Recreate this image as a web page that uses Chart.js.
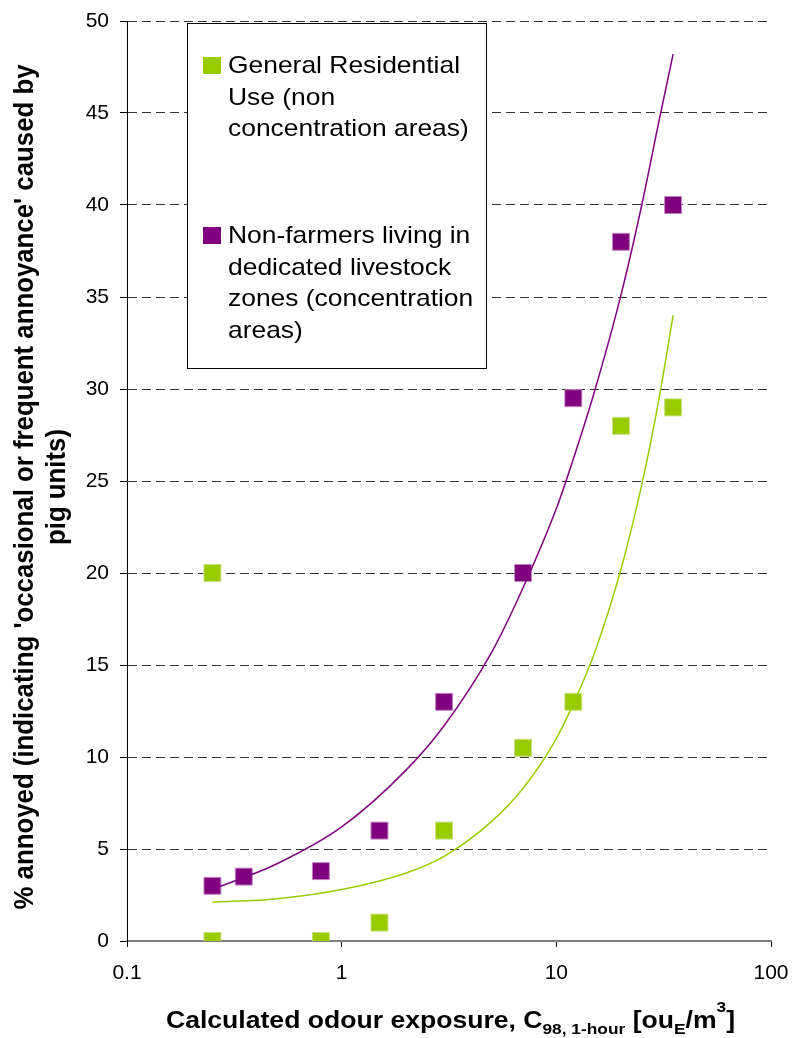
<!DOCTYPE html>
<html>
<head>
<meta charset="utf-8">
<script src="https://cdn.jsdelivr.net/npm/chart.js@4.4.1/dist/chart.umd.min.js"></script>
<style>
  body { margin: 0; background: #fff; }
  #wrap { width: 792px; height: 1038px; }
</style>
</head>
<body>
<div id="wrap"><canvas id="odourChart" width="792" height="1038"></canvas></div>
<script>
// measured points
const greenX = [0.25, 0.25, 0.8, 1.5, 3, 7, 12, 20, 35];
const greenY = [20, 0, 0, 1, 6, 10.5, 13, 28, 29];
const purpleX = [0.25, 0.35, 0.8, 1.5, 3, 7, 12, 20, 35];
const purpleY = [3, 3.5, 3.8, 6, 13, 20, 29.5, 38, 40];

// trend lines
const trendX = [0.25, 0.5, 1, 2, 3, 5, 7, 10, 12, 15, 20, 25, 30, 35];
const greenTrendY = [2.1, 2.3, 2.8, 3.7, 4.6, 6.5, 8.3, 11.0, 12.9, 15.6, 20.2, 24.8, 29.4, 34.0];
const purpleTrendY = [2.8, 4.2, 6.2, 9.3, 11.7, 15.7, 19.2, 23.5, 26.2, 29.8, 35.1, 40.0, 44.5, 48.2];

const xTicks = [0.1, 1, 10, 100];
const xTickLabels = ['0.1', '1', '10', '100'];

const seriesNames = [
  ['General Residential', 'Use (non', 'concentration areas)'],
  ['Non-farmers living in', 'dedicated livestock', 'zones (concentration', 'areas)']
];
const yTitleLines = ["% annoyed (indicating 'occasional or frequent annoyance' caused by", 'pig units)'];

const GREEN = '#99CC00';
const PURPLE = '#800080';

const toPts = (xs, ys) => xs.map((x, i) => ({ x: x, y: ys[i] }));

// axis titles (with sub/superscripts)
const axisTitles = {
  id: 'axisTitles',
  afterDraw(chart) {
    const c = chart.ctx;
    c.save();
    c.fillStyle = '#000';

    c.font = 'bold 28px "Liberation Sans", Arial, sans-serif';
    const sx = 845 / c.measureText(yTitleLines[0]).width;
    yTitleLines.forEach((line, i) => {
      c.save();
      c.translate(33 + i * 32, 487);
      c.rotate(-Math.PI / 2);
      c.scale(sx, 1);
      c.textAlign = 'center';
      c.textBaseline = 'alphabetic';
      c.fillText(line, 0, 0);
      c.restore();
    });

    const parts = [
      { t: 'Calculated odour exposure, C', k: 'n' },
      { t: '98, 1-hour', k: 'sub' },
      { t: ' [ou', k: 'n' },
      { t: 'E', k: 'sub' },
      { t: '/m', k: 'n' },
      { t: '3', k: 'sup' },
      { t: ']', k: 'n' }
    ];
    const fontFor = k => k === 'n' ? 'bold 23px "Liberation Sans", Arial, sans-serif'
                                   : 'bold 15px "Liberation Sans", Arial, sans-serif';
    let total = 0;
    parts.forEach(p => { c.font = fontFor(p.k); p.w = c.measureText(p.t).width; total += p.w; });
    const k = 569 / total;
    c.save();
    c.translate(166, 1028);
    c.scale(k, 1);
    c.textBaseline = 'alphabetic';
    c.textAlign = 'left';
    let x = 0;
    parts.forEach(p => {
      c.font = fontFor(p.k);
      const dy = p.k === 'sub' ? 6 : (p.k === 'sup' ? -16 : 0);
      c.fillText(p.t, x, dy);
      x += p.w;
    });
    c.restore();
    c.restore();
  }
};

// boxed legend with wrapped labels
const legendBox = {
  id: 'legendBox',
  afterDraw(chart) {
    const c = chart.ctx;
    c.save();
    c.fillStyle = '#fff';
    c.fillRect(187, 23, 299, 345);
    c.strokeStyle = '#000';
    c.lineWidth = 1;
    c.strokeRect(187.5, 23.5, 299, 345);
    const colors = [GREEN, PURPLE];
    const tops = [57, 227];
    c.font = '24px "Liberation Sans", Arial, sans-serif';
    c.textBaseline = 'alphabetic';
    const sx = 232 / c.measureText(seriesNames[0][0]).width;
    seriesNames.forEach((lines, g) => {
      c.fillStyle = colors[g];
      c.fillRect(203, tops[g], 18, 17);
      c.fillStyle = '#000';
      lines.forEach((l, i) => {
        c.save();
        c.translate(228, tops[g] + 16 + i * 31.5);
        c.scale(sx, 1);
        c.fillText(l, 0, 0);
        c.restore();
      });
    });
    c.restore();
  }
};

const ctx = document.getElementById('odourChart').getContext('2d');
new Chart(ctx, {
  type: 'scatter',
  data: {
    datasets: [
      {
        type: 'line',
        data: toPts(trendX, purpleTrendY),
        borderColor: PURPLE,
        borderWidth: 1.5,
        pointRadius: 0,
        cubicInterpolationMode: 'monotone',
        fill: false
      },
      {
        type: 'line',
        data: toPts(trendX, greenTrendY),
        borderColor: GREEN,
        borderWidth: 1.5,
        pointRadius: 0,
        cubicInterpolationMode: 'monotone',
        fill: false
      },
      {
        label: seriesNames[0].join(' '),
        data: toPts(greenX, greenY),
        pointStyle: 'rect',
        pointRadius: 12,
        backgroundColor: GREEN,
        borderColor: '#c6e27a',
        borderWidth: 1
      },
      {
        label: seriesNames[1].join(' '),
        data: toPts(purpleX, purpleY),
        pointStyle: 'rect',
        pointRadius: 12,
        backgroundColor: PURPLE,
        borderColor: '#c285c2',
        borderWidth: 1
      }
    ]
  },
  options: {
    responsive: false,
    animation: false,
    layout: { padding: { top: 21, right: 21, left: 0, bottom: 0 } },
    plugins: {
      legend: { display: false },
      tooltip: { enabled: false }
    },
    scales: {
      x: {
        type: 'logarithmic',
        min: 0.1,
        max: 100,
        afterBuildTicks: s => { s.ticks = xTicks.map(v => ({ value: v })); },
        afterFit: s => { s.height = 97; s.paddingLeft = 0; s.paddingRight = 0; },
        ticks: {
          color: '#000',
          padding: 14,
          maxRotation: 0,
          autoSkip: false,
          font: { size: 21, family: '"Liberation Sans", Arial' },
          callback: v => xTickLabels[xTicks.indexOf(v)] ?? ''
        },
        grid: { drawOnChartArea: false, drawTicks: true, tickLength: 6, tickColor: '#000' },
        border: { color: '#808080', width: 2 }
      },
      y: {
        min: 0,
        max: 50,
        afterFit: s => { s.width = 127; s.paddingTop = 0; s.paddingBottom = 0; },
        ticks: {
          stepSize: 5,
          color: '#000',
          padding: 11,
          font: { size: 21, family: '"Liberation Sans", Arial' }
        },
        grid: {
          color: c => c.tick && c.tick.value === 0 ? 'rgba(0,0,0,0)' : '#333',
          tickColor: '#000',
          tickLength: 7
        },
        border: { color: '#000', width: 1, dash: [9, 5] }
      }
    }
  },
  plugins: [axisTitles, legendBox]
});
</script>
</body>
</html>
